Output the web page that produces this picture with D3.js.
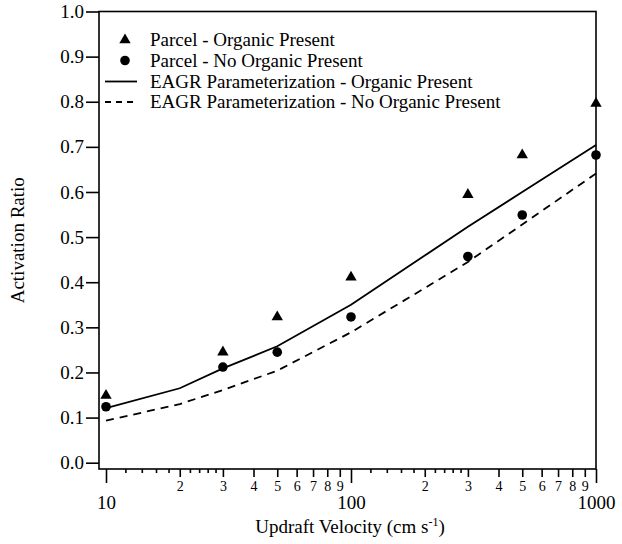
<!DOCTYPE html>
<html>
<head>
<meta charset="utf-8">
<script src="https://d3js.org/d3.v7.min.js"></script>
<style>
  body { margin: 0; background: #fff; }
  svg text { font-family: "Liberation Serif", "Times New Roman", serif; fill: #000; }
</style>
</head>
<body>
<svg id="chart" width="622" height="544"></svg>
<script>
// parcel model results
var parcelV = [10, 30, 50, 100, 300, 500, 1000];
var parcelOrganic = [0.149, 0.245, 0.323, 0.411, 0.594, 0.682, 0.796];
var parcelNoOrganic = [0.124, 0.212, 0.245, 0.323, 0.457, 0.549, 0.682];

// EAGR parameterization curves
var eagrV = [10, 20, 30, 50, 100, 200, 300, 500, 1000];
var eagrOrganic = [0.121, 0.165, 0.209, 0.258, 0.350, 0.459, 0.523, 0.600, 0.704];
var eagrNoOrganic = [0.093, 0.130, 0.161, 0.204, 0.289, 0.387, 0.445, 0.528, 0.641];

// ticks
var xMajor = [10, 100, 1000];
var xMinorLabeled = [20, 30, 40, 50, 60, 70, 80, 90, 200, 300, 400, 500, 600, 700, 800, 900];
var xMinorSmall = [12, 14, 16, 18, 22, 24, 26, 28, 120, 140, 160, 180, 220, 240, 260, 280];
var yTicks = [0, 0.1, 0.2, 0.3, 0.4, 0.5, 0.6, 0.7, 0.8, 0.9, 1.0];

var legendLabels = [
  "Parcel - Organic Present",
  "Parcel - No Organic Present",
  "EAGR Parameterization - Organic Present",
  "EAGR Parameterization - No Organic Present"
];

var svg = d3.select("#chart");

var frameL = 99, frameR = 596, frameT = 11.5, frameB = 469;

var x = d3.scaleLog().domain([10, 1000]).range([106, 596]);
var y = d3.scaleLinear().domain([0, 1]).range([462.7, 11.5]);

// frame
svg.append("rect")
  .attr("x", frameL).attr("y", frameT)
  .attr("width", frameR - frameL).attr("height", frameB - frameT)
  .attr("fill", "none").attr("stroke", "#000").attr("stroke-width", 1.6);

// y axis
var yAxis = d3.axisLeft(y).tickValues(yTicks).tickSize(13).tickPadding(2)
  .tickFormat(d3.format(".1f"));
var gy = svg.append("g").attr("transform", "translate(" + frameL + ",0)").call(yAxis);
gy.select(".domain").remove();
gy.selectAll(".tick line").attr("stroke-width", 1.6);
gy.selectAll(".tick text").style("font-size", "19px");

// x axis: three tick sets
function xAxisGroup(values, size, pad, fmt, fontSize) {
  var ax = d3.axisBottom(x).tickValues(values).tickSize(size).tickPadding(pad).tickFormat(fmt);
  var g = svg.append("g").attr("transform", "translate(0," + frameB + ")").call(ax);
  g.select(".domain").remove();
  g.selectAll(".tick line").attr("stroke-width", 1.6);
  g.selectAll(".tick text").style("font-size", fontSize);
  return g;
}
xAxisGroup(xMajor, 14, 13, d3.format("d"), "19px");
xAxisGroup(xMinorLabeled, 8, 4, function (d) {
  return String(d).charAt(0);
}, "14px");
xAxisGroup(xMinorSmall, 4, 0, function () { return ""; }, "10px");

// axis titles
svg.append("text")
  .attr("transform", "translate(24," + ((frameT + frameB) / 2) + ") rotate(-90)")
  .attr("text-anchor", "middle")
  .style("font-size", "19px")
  .text("Activation Ratio");

var xt = svg.append("text")
  .attr("x", 350).attr("y", 533)
  .attr("text-anchor", "middle")
  .style("font-size", "19px");
xt.append("tspan").text("Updraft Velocity (cm s");
xt.append("tspan").attr("dy", -7).style("font-size", "12px").text("-1");
xt.append("tspan").attr("dy", 7).text(")");

// curves
var line = d3.line()
  .x(function (d) { return x(d[0]); })
  .y(function (d) { return y(d[1]); });

svg.append("path")
  .datum(eagrV.map(function (v, i) { return [v, eagrOrganic[i]]; }))
  .attr("d", line)
  .attr("fill", "none").attr("stroke", "#000").attr("stroke-width", 1.8);

svg.append("path")
  .datum(eagrV.map(function (v, i) { return [v, eagrNoOrganic[i]]; }))
  .attr("d", line)
  .attr("fill", "none").attr("stroke", "#000").attr("stroke-width", 1.8)
  .attr("stroke-dasharray", "8,6");

// points
var tri = d3.symbol().type(d3.symbolTriangle).size(56);

svg.selectAll("path.tri")
  .data(parcelV.map(function (v, i) { return [v, parcelOrganic[i]]; }))
  .enter().append("path")
  .attr("class", "tri")
  .attr("d", tri)
  .attr("transform", function (d) { return "translate(" + x(d[0]) + "," + y(d[1]) + ")"; })
  .attr("fill", "#000");

svg.selectAll("circle.dot")
  .data(parcelV.map(function (v, i) { return [v, parcelNoOrganic[i]]; }))
  .enter().append("circle")
  .attr("class", "dot")
  .attr("cx", function (d) { return x(d[0]); })
  .attr("cy", function (d) { return y(d[1]); })
  .attr("r", 4.8)
  .attr("fill", "#000");

// legend
var legY = [40, 60.5, 81.5, 102];
var leg = svg.append("g");
leg.append("path").attr("d", tri)
  .attr("transform", "translate(125," + legY[0] + ")").attr("fill", "#000");
leg.append("circle").attr("cx", 125).attr("cy", legY[1]).attr("r", 4.8).attr("fill", "#000");
leg.append("line").attr("x1", 105).attr("x2", 137).attr("y1", legY[2]).attr("y2", legY[2])
  .attr("stroke", "#000").attr("stroke-width", 1.8);
leg.append("line").attr("x1", 105).attr("x2", 137).attr("y1", legY[3]).attr("y2", legY[3])
  .attr("stroke", "#000").attr("stroke-width", 1.8).attr("stroke-dasharray", "6,5");
leg.selectAll("text.lab")
  .data(legendLabels)
  .enter().append("text")
  .attr("class", "lab")
  .attr("x", 150)
  .attr("y", function (d, i) { return legY[i] + 6; })
  .style("font-size", "19px")
  .text(function (d) { return d; });
</script>
</body>
</html>
